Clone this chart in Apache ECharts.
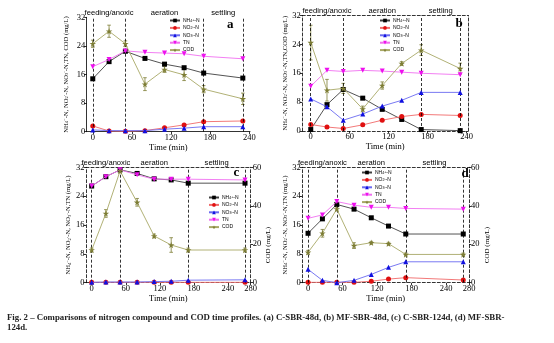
<!DOCTYPE html>
<html><head><meta charset="utf-8">
<script src="https://cdn.jsdelivr.net/npm/echarts@6/dist/echarts.min.js"></script>
<style>html,body{margin:0;padding:0;background:#fff}#c{width:554px;height:343px}</style>
</head><body><div id="c"></div>
<script>
// ---------- data ----------
const seriesNames = ['NH4+-N', 'NO2--N', 'NO3--N', 'TN', 'COD'];
const timeAB = [0, 25, 50, 80, 110, 140, 170, 230];
const timeCD = [0, 25, 50, 80, 110, 140, 170, 270];
const phaseNames = ['feeding/anoxic', 'aeration', 'settling'];
const phaseEdgesAB = [0, 50, 170, 230];
const phaseEdgesCD = [0, 50, 170, 270];
const xTicksAB = [0, 60, 120, 180, 240];
const xTicksCD = [0, 60, 120, 180, 240, 280];
const yTicksN = [0, 8, 16, 24, 32];
const yTicksCOD = [0, 20, 40, 60];
const panelLetters = ['a', 'b', 'c', 'd'];

// panel a (C-SBR-48d)
const aNH4 = [14.8, 19.6, 22.5, 20.5, 18.9, 17.9, 16.4, 15.0];
const aNO2 = [1.6, 0.2, 0.1, 0.3, 1.1, 1.9, 2.8, 3.0];
const aNO3 = [0.5, 0.3, 0.3, 0.3, 0.7, 1.0, 1.4, 1.4];
const aTN = [18.2, 20.2, 22.6, 22.2, 22.0, 21.8, 21.1, 20.4];
const aCOD = [24.6, 28.1, 24.6, 13.3, 17.4, 15.9, 11.9, 9.2];
const aCODerr = [1.0, 1.7, 0.8, 1.8, 0.8, 1.6, 1.0, 1.6];

// panel b (MF-SBR-48d)
const bNH4 = [0.4, 7.3, 11.5, 9.1, 6.0, 3.2, 0.4, 0.1];
const bNO2 = [1.8, 1.1, 0.7, 1.7, 3.0, 4.0, 4.6, 4.3];
const bNO3 = [8.9, 6.7, 3.0, 4.7, 6.9, 8.5, 10.7, 10.7];
const bTN = [12.4, 16.8, 16.5, 16.8, 16.6, 16.3, 16.0, 15.6];
const bCOD = [24.5, 11.3, 11.8, 6.1, 12.6, 18.7, 22.4, 17.3];
const bCODerr = [4.8, 3.0, 1.4, 0.8, 1.0, 0.5, 1.5, 1.5];

// panel c (C-SBR-124d), COD on right axis
const cNH4 = [26.8, 29.4, 31.3, 30.3, 28.8, 28.5, 27.6, 27.6];
const cNO2 = [0.1, 0.1, 0.1, 0.1, 0.1, 0.1, 0.1, 0.1];
const cNO3 = [0.1, 0.2, 0.2, 0.2, 0.3, 0.4, 0.7, 0.8];
const cTN = [26.8, 29.4, 31.3, 29.9, 28.7, 28.7, 28.7, 28.5];
const cCOD = [17.0, 36.0, 58.1, 41.8, 24.3, 19.6, 17.0, 17.0];
const cCODerr = [1.0, 2.0, 1.0, 2.0, 1.0, 3.8, 1.0, 1.0];

// panel d (MF-SBR-124d), COD on right axis
const dNH4 = [13.7, 17.7, 21.7, 20.4, 18.0, 15.7, 13.5, 13.5];
const dNO2 = [0.1, 0.1, 0.1, 0.1, 0.4, 1.0, 1.4, 0.75];
const dNO3 = [3.7, 0.65, 0.0, 0.65, 2.3, 4.25, 5.8, 5.8];
const dTN = [17.85, 18.8, 22.5, 21.5, 20.9, 20.9, 20.6, 20.4];
const dCOD = [15.8, 25.7, 38.3, 19.3, 20.8, 20.3, 14.7, 14.7];
const dCODerr = [1.0, 2.0, 1.0, 1.5, 0.7, 0.7, 0.7, 0.7];

const captionLines = [
  'Fig. 2 \u2013 Comparisons of nitrogen compound and COD time profiles. (a) C-SBR-48d, (b) MF-SBR-48d, (c) C-SBR-124d, (d) MF-SBR-',
  '124d.'
];

// ---------- styling / layout ----------
const SERIF = '"Liberation Serif", "Times New Roman", serif';
const SANS = '"Liberation Sans", Arial, sans-serif';
const markerColors = ['#000000', '#e01010', '#1010e0', '#ee10ee', '#7d7d35'];
const lineColors = ['#404040', '#f06a6a', '#6a6af0', '#f070f0', '#a8a866'];
const symbols = ['rect', 'circle', 'triangle', 'triangle',
  'path://M50,0 L61,35 L98,35 L68,57 L79,91 L50,70 L21,91 L32,57 L2,35 L39,35 Z'];
const symbolRot = [0, 0, 0, 180, 0];
const symbolSizes = [5, 5, 5, 5, 6.5];
const richNames = {
  'NH4+-N': 'NH{sub|4}{sup|+}-N', 'NO2--N': 'NO{sub|2}{sup|-}-N', 'NO3--N': 'NO{sub|3}{sup|-}-N',
  'TN': 'TN', 'COD': 'COD'
};
const yNameAB0 = 'NH{sub|4}{sup|+}-N, NO{sub|2}{sup|-}-N, NO{sub|3}{sup|-}-N,TN, COD (mg/L)';
const yNameAB1 = 'NH{sub|4}{sup|+}-N, NO{sub|2}{sup|-}-N, NO{sub|3}{sup|-}-N,TN,COD (mg/L)';
const yNameCD = 'NH{sub|4}{sup|+}-N, NO{sub|2}{sup|-}-N, NO{sub|3}{sup|-}-N,TN (mg/L)';

const panels = [
  { time: timeAB, vals: [aNH4, aNO2, aNO3, aTN, aCOD], err: aCODerr, edges: phaseEdgesAB, xTicks: xTicksAB,
    grid: { left: 86.7, top: 17.3, width: 163.3, height: 114.4 }, xmin: -9.3, xmax: 241,
    frame: false, codRight: false, yName: yNameAB0, yGap: 17, legend: { left: 169, top: 18 },
    letter: { x: 227, y: 18 } },
  { time: timeAB, vals: [bNH4, bNO2, bNO3, bTN, bCOD], err: bCODerr, edges: phaseEdgesAB, xTicks: xTicksAB,
    grid: { left: 302.3, top: 15.5, width: 165.7, height: 115.5 }, xmin: -13, xmax: 242,
    frame: true, codRight: false, yName: yNameAB1, yGap: 12.5, legend: { left: 379, top: 18 },
    letter: { x: 455.5, y: 17 } },
  { time: timeCD, vals: [cNH4, cNO2, cNO3, cTN, cCOD], err: cCODerr, edges: phaseEdgesCD, xTicks: xTicksCD,
    grid: { left: 86, top: 167.3, width: 164.7, height: 115.4 }, xmin: -10, xmax: 280,
    frame: true, codRight: true, yName: yNameCD, yGap: 14, legend: { left: 208, top: 195 },
    letter: { x: 233.5, y: 166 } },
  { time: timeCD, vals: [dNH4, dNO2, dNO3, dTN, dCOD], err: dCODerr, edges: phaseEdgesCD, xTicks: xTicksCD,
    grid: { left: 302.3, top: 167.3, width: 166.7, height: 115.4 }, xmin: -10, xmax: 280,
    frame: true, codRight: true, yName: yNameCD, yGap: 9.5, legend: { left: 361, top: 170 },
    letter: { x: 461.5, y: 167 } }
];

function errRender(params, api) {
  const x = api.value(0), lo = api.value(1), hi = api.value(2);
  const p1 = api.coord([x, hi]), p2 = api.coord([x, lo]);
  const w = 1.8;
  const style = { stroke: api.visual('color'), lineWidth: 0.8 };
  return { type: 'group', children: [
    { type: 'line', shape: { x1: p1[0], y1: p1[1], x2: p2[0], y2: p2[1] }, style },
    { type: 'line', shape: { x1: p1[0] - w, y1: p1[1], x2: p1[0] + w, y2: p1[1] }, style },
    { type: 'line', shape: { x1: p2[0] - w, y1: p2[1], x2: p2[0] + w, y2: p2[1] }, style }
  ]};
}

const grid = [], xAxis = [], yAxis = [], series = [], legend = [], graphic = [];
const dashed = [3, 2];
const subsup = {
  sub: { fontSize: 4.5, verticalAlign: 'bottom', fontFamily: SERIF },
  sup: { fontSize: 4.5, verticalAlign: 'top', fontFamily: SERIF }
};

panels.forEach((p, i) => {
  grid.push(Object.assign({ containLabel: false }, p.grid));
  const axisLineStyle = { color: '#000', width: 0.8, type: p.frame ? dashed : 'solid' };
  xAxis.push({
    type: 'value', gridIndex: i, min: p.xmin, max: p.xmax, position: 'bottom',
    axisLine: { show: true, onZero: false, lineStyle: axisLineStyle },
    axisTick: { show: true, customValues: p.xTicks, length: 2.5, lineStyle: { color: '#000', width: 0.8 } },
    axisLabel: { customValues: p.xTicks, fontFamily: SERIF, fontSize: 8.5, color: '#000', margin: 1.5 },
    splitLine: { show: false },
    name: 'Time (min)', nameLocation: 'middle', nameGap: 11,
    nameTextStyle: { fontFamily: SERIF, fontSize: 8.5, color: '#000' }
  });
  xAxis.push({
    type: 'value', gridIndex: i, min: p.xmin, max: p.xmax, position: 'top', show: p.frame,
    axisLine: { show: true, onZero: false, lineStyle: { color: '#000', width: 0.8, type: dashed } },
    axisTick: { show: false }, axisLabel: { show: false }, splitLine: { show: false }
  });
  yAxis.push({
    type: 'value', gridIndex: i, min: 0, max: 32, interval: 8, position: 'left',
    axisLine: { show: true, onZero: false, lineStyle: axisLineStyle },
    axisTick: { show: true, length: 2.5, lineStyle: { color: '#000', width: 0.8 } },
    axisLabel: { fontFamily: SERIF, fontSize: 8.5, color: '#000', margin: 1.5,
      customValues: yTicksN },
    splitLine: { show: false },
    name: p.yName, nameLocation: 'middle', nameGap: p.yGap,
    nameTextStyle: { fontFamily: SERIF, fontSize: 6.6, color: '#000', rich: subsup }
  });
  if (p.codRight) {
    yAxis.push({
      type: 'value', gridIndex: i, min: 0, max: 60, interval: 20, position: 'right',
      axisLine: { show: true, onZero: false, lineStyle: { color: '#000', width: 0.8, type: dashed } },
      axisTick: { show: true, length: 2.5, lineStyle: { color: '#000', width: 0.8 } },
      axisLabel: { fontFamily: SERIF, fontSize: 8.5, color: '#000', margin: 2, customValues: yTicksCOD },
      splitLine: { show: false },
      name: 'COD (mg/L)', nameLocation: 'middle', nameGap: 11,
      nameTextStyle: { fontFamily: SERIF, fontSize: 7, color: '#000', padding: [0, 40, 0, 0] }
    });
  } else {
    yAxis.push({
      type: 'value', gridIndex: i, min: 0, max: 32, position: 'right', show: p.frame,
      axisLine: { show: true, onZero: false, lineStyle: { color: '#000', width: 0.8, type: dashed } },
      axisTick: { show: false }, axisLabel: { show: false }, splitLine: { show: false }
    });
  }

  seriesNames.forEach((nm, k) => {
    const isCOD = k === 4;
    const s = {
      type: 'line', name: nm, xAxisIndex: 2 * i, yAxisIndex: (isCOD && p.codRight) ? 2 * i + 1 : 2 * i,
      data: p.time.map((t, j) => [t, p.vals[k][j]]),
      symbol: symbols[k], symbolRotate: symbolRot[k], symbolSize: symbolSizes[k], showAllSymbol: true,
      itemStyle: { color: markerColors[k] },
      lineStyle: { color: lineColors[k], width: 0.9 },
      z: 3 + k, animation: false, silent: true
    };
    if (k === 0) {
      s.markLine = {
        silent: true, symbol: 'none', label: { show: false }, animation: false,
        lineStyle: { color: '#000', type: dashed, width: 0.8 },
        data: p.edges.map(v => ({ xAxis: v }))
      };
      s.markArea = {
        silent: true, animation: false,
        itemStyle: { color: 'rgba(0,0,0,0)' },
        label: { show: true, position: 'top', distance: 0.5, fontFamily: SANS, fontSize: 7.6, color: '#000' },
        data: phaseNames.map((n, q) => [{ name: n, xAxis: p.edges[q] }, { xAxis: p.edges[q + 1] }])
      };
    }
    series.push(s);
  });
  // COD error bars
  series.push({
    type: 'custom', name: 'COD error ' + i, xAxisIndex: 2 * i, yAxisIndex: p.codRight ? 2 * i + 1 : 2 * i,
    data: p.time.map((t, j) => [t, p.vals[4][j] - p.err[j], p.vals[4][j] + p.err[j]]),
    encode: { x: 0, y: [1, 2] }, renderItem: errRender,
    itemStyle: { color: markerColors[4] }, z: 2, silent: true, animation: false
  });

  legend.push({
    orient: 'vertical', left: p.legend.left, top: p.legend.top,
    data: seriesNames, itemWidth: 10, itemHeight: 4.6, itemGap: 2.4, padding: 0,
    selectedMode: false,
    textStyle: { fontFamily: SANS, fontSize: 5, color: '#000', padding: [0, 0, 0, -2],
      rich: { sub: { fontSize: 3.6, verticalAlign: 'bottom' }, sup: { fontSize: 3.6, verticalAlign: 'top' } } },
    formatter: n => richNames[n]
  });

  graphic.push({
    type: 'text', left: p.letter.x, top: p.letter.y,
    style: { text: panelLetters[i], font: 'bold 13px ' + SERIF, fill: '#000' }
  });
});

graphic.push({
  type: 'text', left: 7, top: 312.5,
  style: { text: captionLines.join('\n'), font: 'bold 8.8px ' + SERIF, fill: '#222', lineHeight: 10 }
});

const chart = echarts.init(document.getElementById('c'), null, { renderer: 'canvas' });
chart.setOption({
  backgroundColor: '#fff', animation: false,
  grid, xAxis, yAxis, series, legend, graphic
});
</script></body></html>
